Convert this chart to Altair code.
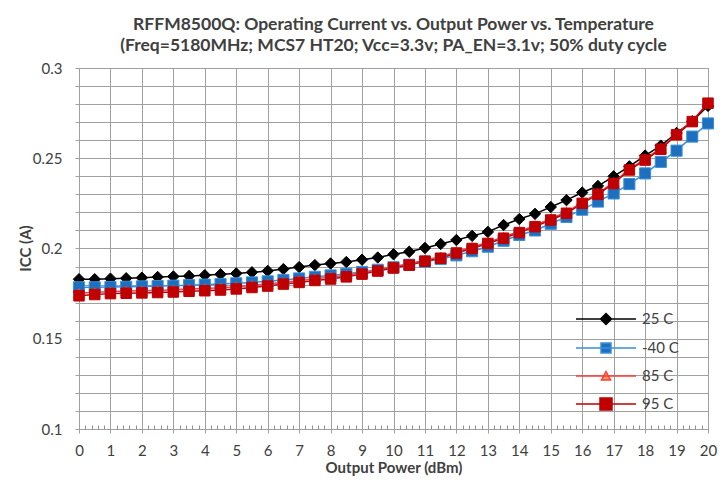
import altair as alt
import pandas as pd

power = [0, 0.5, 1, 1.5, 2, 2.5, 3, 3.5, 4, 4.5, 5, 5.5, 6, 6.5, 7, 7.5, 8, 8.5, 9, 9.5,
         10, 10.5, 11, 11.5, 12, 12.5, 13, 13.5, 14, 14.5, 15, 15.5, 16, 16.5, 17, 17.5,
         18, 18.5, 19, 19.5, 20]

icc_25 = [0.1830, 0.1830, 0.1833, 0.1835, 0.1838, 0.1842, 0.1845, 0.1848, 0.1852, 0.1857,
          0.1862, 0.1868, 0.1876, 0.1886, 0.1897, 0.1908, 0.1917, 0.1925, 0.1938, 0.1950,
          0.1968, 0.1982, 0.2003, 0.2025, 0.2047, 0.2070, 0.2092, 0.2130, 0.2163, 0.2192,
          0.2230, 0.2268, 0.2310, 0.2346, 0.2400, 0.2455, 0.2515, 0.2570, 0.2640, 0.2705,
          0.2790]
icc_m40 = [0.1785, 0.1785, 0.1787, 0.1788, 0.1790, 0.1792, 0.1794, 0.1797, 0.1800, 0.1803,
           0.1807, 0.1812, 0.1818, 0.1826, 0.1834, 0.1843, 0.1851, 0.1860, 0.1870, 0.1882,
           0.1896, 0.1910, 0.1926, 0.1942, 0.1962, 0.1985, 0.2010, 0.2043, 0.2075, 0.2100,
           0.2137, 0.2175, 0.2215, 0.2260, 0.2305, 0.2357, 0.2416, 0.2480, 0.2542, 0.2620,
           0.2693]
icc_85 = [0.1752, 0.1757, 0.1761, 0.1764, 0.1766, 0.1768, 0.1771, 0.1775, 0.1778, 0.1782,
          0.1788, 0.1795, 0.1803, 0.1813, 0.1822, 0.1832, 0.1841, 0.1852, 0.1866, 0.1883,
          0.1900, 0.1916, 0.1937, 0.1954, 0.1982, 0.2007, 0.2035, 0.2064, 0.2095, 0.2128,
          0.2165, 0.2202, 0.2256, 0.2306, 0.2366, 0.2440, 0.2496, 0.2556, 0.2634, 0.2706,
          0.2806]
icc_95 = [0.1738, 0.1745, 0.1750, 0.1752, 0.1754, 0.1756, 0.1759, 0.1763, 0.1766, 0.1770,
          0.1776, 0.1784, 0.1792, 0.1803, 0.1812, 0.1823, 0.1831, 0.1843, 0.1858, 0.1875,
          0.1892, 0.1908, 0.1930, 0.1946, 0.1975, 0.2000, 0.2028, 0.2057, 0.2088, 0.2121,
          0.2158, 0.2195, 0.2250, 0.2300, 0.2360, 0.2435, 0.2490, 0.2550, 0.2630, 0.2703,
          0.2805]

series = ["25 C", "-40 C", "85 C", "95 C"]
x_ticks = list(range(0, 21))
y_ticks = [0.10, 0.11, 0.12, 0.13, 0.14, 0.15, 0.16, 0.17, 0.18, 0.19, 0.20,
           0.21, 0.22, 0.23, 0.24, 0.25, 0.26, 0.27, 0.28, 0.29, 0.30]
x_minor = [round(i * 0.2, 1) for i in range(101) if i % 5]

title_lines = ["RFFM8500Q: Operating Current vs. Output Power vs. Temperature",
               "(Freq=5180MHz; MCS7 HT20; Vcc=3.3v; PA_EN=3.1v; 50% duty cycle"]

rows = []
for name, vals in zip(series, [icc_25, icc_m40, icc_85, icc_95]):
    for p, v in zip(power, vals):
        rows.append({"power": p, "icc": v, "series": name})
df = pd.DataFrame(rows)

FONT = "Lato"
TXT = "#404040"
GRID = "#A0A0A0"

line_colors = ["#000000", "#3A8FDB", "#FF3B3B", "#C00000"]
fill_colors = ["#000000", "#1F6FBF", "#F0A050", "#C00000"]
shapes = ["diamond", "square", "triangle-up", "square"]
sizes = [130, 110, 80, 140]
legend_paths = [
    "M-3,0H3M0,-0.55L0.55,0L0,0.55L-0.55,0Z",
    "M-3,0H3M-0.5,-0.5H0.5V0.5H-0.5Z",
    "M-3,0H3M0,-0.45L0.45,0.4H-0.45Z",
    "M-3,0H3M-0.6,-0.6H0.6V0.6H-0.6Z",
]

leg = alt.Legend(
    orient="none", legendX=516, legendY=240, title=None,
    symbolSize=400, symbolStrokeWidth=1.5, symbolOpacity=1,
    labelFont=FONT, labelFontSize=15, labelColor=TXT, labelOffset=25,
    rowPadding=9, padding=0,
)

xscale = alt.Scale(domain=[0, 20], nice=False, zero=False)
yscale = alt.Scale(domain=[0.1, 0.3], nice=False, zero=False)

y_axis = alt.Axis(
    values=y_ticks,
    labelExpr="(round(datum.value*100) % 5 == 0) ? format(datum.value, '') : ''",
    grid=True, gridColor=GRID, gridWidth=1, domainColor=GRID, tickColor=GRID,
    tickSize=4, labelPadding=13, labelFont=FONT, labelFontSize=15, labelColor=TXT,
    labelFlush=False,
    title="ICC (A)", titleFont=FONT, titleFontSize=15, titleFontWeight="bold",
    titleColor=TXT, titleX=-54, titleY=180, titleBaseline="middle", titleAngle=270,
)
y_enc = alt.Y("icc:Q", scale=yscale, axis=y_axis)

x_axis_main = alt.Axis(
    values=x_ticks, format="d", grid=True, gridColor=GRID, gridWidth=1,
    domainColor=GRID, tickColor=GRID, tickSize=4, labelPadding=10, labelFlush=False,
    labelFont=FONT, labelFontSize=15, labelColor=TXT,
    title="Output Power (dBm)", titleFont=FONT, titleFontSize=15,
    titleFontWeight="bold", titleColor=TXT, titleY=38, titleBaseline="middle",
)
x_axis_minor = alt.Axis(
    orient="top", offset=-361, values=x_minor, labels=False, domain=False,
    grid=False, ticks=True, tickSize=4, tickColor="#909090", title=None,
)

lines = alt.Chart(df).mark_line(strokeWidth=1.5).encode(
    x=alt.X("power:Q", scale=xscale, axis=x_axis_main),
    y=y_enc,
    stroke=alt.Stroke("series:N", scale=alt.Scale(domain=series, range=line_colors), legend=None),
)

points = alt.Chart(df).mark_point(opacity=1, strokeWidth=1).encode(
    x=alt.X("power:Q", scale=xscale, axis=x_axis_minor),
    y=y_enc,
    fill=alt.Fill("series:N", scale=alt.Scale(domain=series, range=fill_colors), legend=None),
    stroke=alt.Stroke("series:N", scale=alt.Scale(domain=series, range=line_colors), legend=None),
    shape=alt.Shape("series:N", scale=alt.Scale(domain=series, range=shapes), legend=None),
    size=alt.Size("series:N", scale=alt.Scale(domain=series, range=sizes), legend=None),
)

legend_layer = alt.Chart(df).transform_filter("datum.power < 0").mark_point(
    opacity=1, strokeWidth=1.5
).encode(
    x=alt.X("power:Q", scale=xscale, axis=None),
    y=y_enc,
    fill=alt.Fill("series:N", scale=alt.Scale(domain=series, range=fill_colors), legend=leg),
    stroke=alt.Stroke("series:N", scale=alt.Scale(domain=series, range=line_colors), legend=leg),
    shape=alt.Shape("series:N", scale=alt.Scale(domain=series, range=legend_paths), legend=leg),
)

chart = alt.layer(lines, points, legend_layer).resolve_axis(
    x="independent"
).resolve_scale(
    shape="independent", fill="independent", stroke="independent", size="independent"
).properties(
    width=629, height=361,
    autosize=alt.AutoSizeParams(type="none"),
    padding={"left": 71, "top": 60, "right": 12, "bottom": 50},
    background="white",
    title=alt.Title(text=title_lines, font=FONT, fontSize=17.5, fontWeight="bold",
                    color=TXT, anchor="middle", frame="group", offset=7, lineHeight=21),
).configure_view(stroke=GRID)

chart.save("out.html", embed_options={"renderer": "svg", "actions": False})
